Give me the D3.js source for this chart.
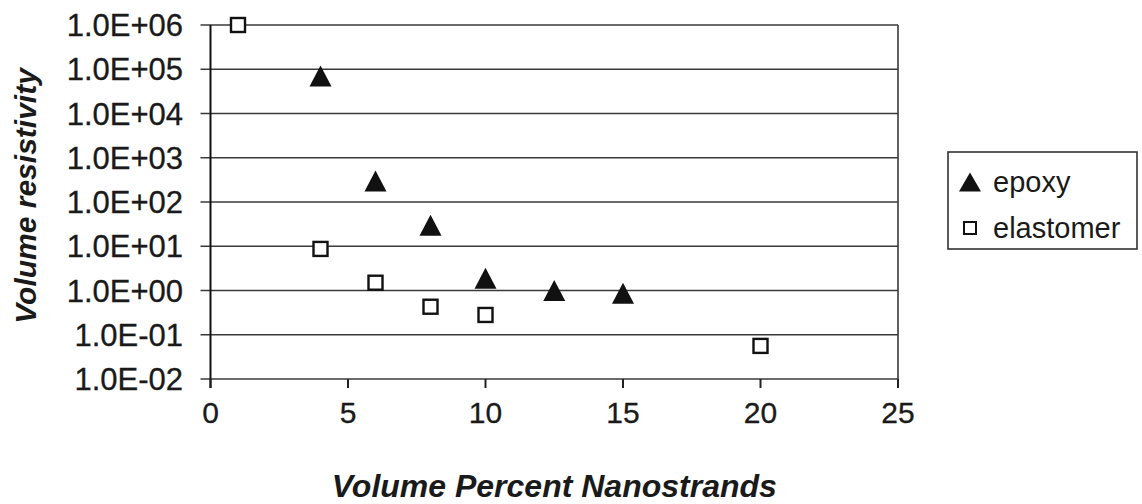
<!DOCTYPE html>
<html>
<head>
<meta charset="utf-8">
<script src="https://cdn.jsdelivr.net/npm/d3@7"></script>
<style>
  body { margin: 0; background: #fff; }
  text { font-family: "Liberation Sans", Arial, sans-serif; fill: #1a1a1a; }
</style>
</head>
<body>
<svg id="chart" width="1142" height="504"></svg>
<script>
// values
var xTicks = [0, 5, 10, 15, 20, 25];
var yTicks = [1e-2, 1e-1, 1e0, 1e1, 1e2, 1e3, 1e4, 1e5, 1e6];

var epoxyX = [4, 6, 8, 10, 12.5, 15];
var epoxyY = [7e4, 300, 30, 1.9, 1.0, 0.87];

var elastomerX = [1, 4, 6, 8, 10, 20];
var elastomerY = [1e6, 8.7, 1.5, 0.43, 0.28, 0.056];

var seriesNames = ['epoxy', 'elastomer'];

var svg = d3.select('#chart');

var plot = { left: 210.5, right: 898, top: 25, bottom: 379 };

var x = d3.scaleLinear().domain([0, 25]).range([plot.left, plot.right]);
var y = d3.scaleLog().domain([1e-2, 1e6]).range([plot.bottom, plot.top]);

function sci(v) {
  var e = Math.round(Math.log10(v));
  var s = e < 0 ? '-' : '+';
  var a = Math.abs(e);
  return '1.0E' + s + (a < 10 ? '0' : '') + a;
}

// gridlines
svg.append('g')
  .selectAll('line')
  .data(yTicks)
  .enter()
  .append('line')
  .attr('x1', plot.left - 10)
  .attr('x2', plot.right)
  .attr('y1', function(d) { return y(d); })
  .attr('y2', function(d) { return y(d); })
  .attr('stroke', '#3a3a3a')
  .attr('stroke-width', 1.6);

// right border
svg.append('line')
  .attr('x1', plot.right).attr('x2', plot.right)
  .attr('y1', plot.top).attr('y2', plot.bottom)
  .attr('stroke', '#3a3a3a')
  .attr('stroke-width', 1.6);

// y axis line
svg.append('line')
  .attr('x1', plot.left).attr('x2', plot.left)
  .attr('y1', plot.top).attr('y2', plot.bottom + 9)
  .attr('stroke', '#111')
  .attr('stroke-width', 2);

// x axis ticks
svg.append('g')
  .selectAll('line')
  .data(xTicks)
  .enter()
  .append('line')
  .attr('x1', function(d) { return x(d); })
  .attr('x2', function(d) { return x(d); })
  .attr('y1', plot.bottom)
  .attr('y2', plot.bottom + 9)
  .attr('stroke', '#222')
  .attr('stroke-width', 2);

// y tick labels
svg.append('g')
  .selectAll('text')
  .data(yTicks)
  .enter()
  .append('text')
  .attr('x', 183)
  .attr('y', function(d) { return y(d); })
  .attr('dy', '0.36em')
  .attr('text-anchor', 'end')
  .style('font-size', '31px')
  .style('stroke', '#1a1a1a')
  .style('stroke-width', 0.3)
  .text(sci);

// x tick labels
svg.append('g')
  .selectAll('text')
  .data(xTicks)
  .enter()
  .append('text')
  .attr('x', function(d) { return x(d); })
  .attr('y', 423)
  .attr('text-anchor', 'middle')
  .style('font-size', '30px')
  .style('stroke', '#1a1a1a')
  .style('stroke-width', 0.3)
  .text(function(d) { return d; });

// axis titles
svg.append('text')
  .attr('transform', 'translate(36,196) rotate(-90)')
  .attr('text-anchor', 'middle')
  .style('font-size', '30px')
  .style('font-weight', 'bold')
  .style('font-style', 'italic')
  .text('Volume resistivity');

svg.append('text')
  .attr('x', (plot.left + plot.right) / 2)
  .attr('y', 497)
  .attr('text-anchor', 'middle')
  .style('font-size', '32px')
  .style('font-weight', 'bold')
  .style('font-style', 'italic')
  .text('Volume Percent Nanostrands');

// markers
function triPath(cx, cy, w, h) {
  return 'M' + cx + ',' + (cy - h / 2) +
    'L' + (cx + w / 2) + ',' + (cy + h / 2) +
    'L' + (cx - w / 2) + ',' + (cy + h / 2) + 'Z';
}

var epoxy = d3.zip(epoxyX, epoxyY);
var elastomer = d3.zip(elastomerX, elastomerY);

svg.append('g')
  .selectAll('path')
  .data(epoxy)
  .enter()
  .append('path')
  .attr('d', function(d) { return triPath(x(d[0]), y(d[1]), 22, 21); })
  .attr('fill', '#111');

svg.append('g')
  .selectAll('rect')
  .data(elastomer)
  .enter()
  .append('rect')
  .attr('x', function(d) { return x(d[0]) - 7; })
  .attr('y', function(d) { return y(d[1]) - 7; })
  .attr('width', 14)
  .attr('height', 14)
  .attr('fill', '#fff')
  .attr('stroke', '#111')
  .attr('stroke-width', 2.4);

// legend
var legend = svg.append('g').attr('transform', 'translate(948,152)');
legend.append('rect')
  .attr('width', 189)
  .attr('height', 97)
  .attr('fill', '#fff')
  .attr('stroke', '#333')
  .attr('stroke-width', 1.6);

var rows = legend.selectAll('g.row')
  .data(seriesNames)
  .enter()
  .append('g')
  .attr('class', 'row')
  .attr('transform', function(d, i) { return 'translate(0,' + (30 + i * 46) + ')'; });

rows.each(function(d, i) {
  var g = d3.select(this);
  if (i === 0) {
    g.append('path').attr('d', triPath(22, 0, 22, 19)).attr('fill', '#111');
  } else {
    g.append('rect')
      .attr('x', 16).attr('y', -6)
      .attr('width', 12).attr('height', 12)
      .attr('fill', '#fff')
      .attr('stroke', '#111')
      .attr('stroke-width', 2);
  }
  g.append('text')
    .attr('x', 45)
    .attr('dy', '0.36em')
    .style('font-size', '29px')
    .text(d);
});
</script>
</body>
</html>
